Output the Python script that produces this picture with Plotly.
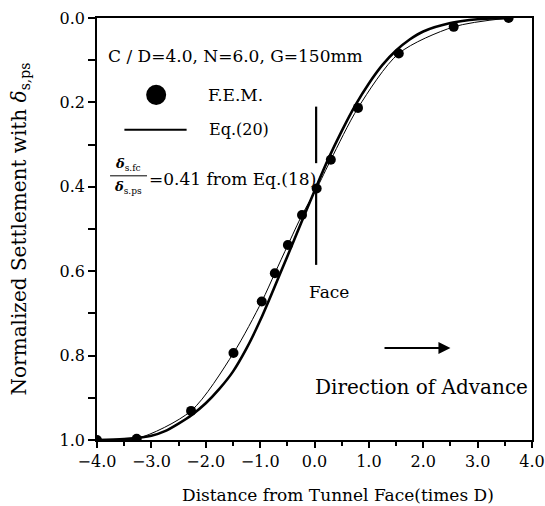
import plotly.graph_objects as go

# F.E.M. results
fem_x = [-4.0, -3.27, -2.27, -1.49, -0.97, -0.73, -0.49, -0.23, 0.04, 0.30, 0.80, 1.55, 2.56, 3.57]
fem_y = [1.0, 0.997, 0.931, 0.794, 0.672, 0.605, 0.538, 0.467, 0.404, 0.336, 0.213, 0.084, 0.021, 0.0]

# Eq.(20) curve
eq_x = [-4.0, -3.5, -3.0, -2.75, -2.5, -2.25, -2.0, -1.75, -1.5, -1.25, -1.0, -0.75, -0.5, -0.25,
        0.0, 0.25, 0.5, 0.75, 1.0, 1.25, 1.5, 1.75, 2.0, 2.5, 3.0, 3.6]
eq_y = [1.0, 0.998, 0.99, 0.979, 0.961, 0.94, 0.913, 0.879, 0.838, 0.783, 0.717, 0.642, 0.565, 0.487,
        0.41, 0.335, 0.268, 0.207, 0.155, 0.111, 0.077, 0.051, 0.032, 0.012, 0.003, 0.0]

face_x = [0.03, 0.03]
face_upper = [0.21, 0.344]
face_lower = [0.40, 0.585]

x_ticks = [-4.0, -3.0, -2.0, -1.0, 0.0, 1.0, 2.0, 3.0, 4.0]
x_labels = ["\u22124.0", "\u22123.0", "\u22122.0", "\u22121.0", "0.0", "1.0", "2.0", "3.0", "4.0"]
y_ticks = [0.0, 0.2, 0.4, 0.6, 0.8, 1.0]
y_labels = ["0.0", "0.2", "0.4", "0.6", "0.8", "1.0"]

FONT = "DejaVu Serif"

fig = go.Figure()
fig.add_trace(go.Scatter(x=eq_x, y=eq_y, mode="lines", line=dict(color="black", width=2.6, shape="spline", smoothing=0.8),
                         showlegend=False))
fig.add_trace(go.Scatter(x=fem_x, y=fem_y, mode="lines+markers", line=dict(color="black", width=1, shape="spline", smoothing=0.8),
                         marker=dict(color="black", size=10), showlegend=False))
fig.add_trace(go.Scatter(x=face_x, y=face_upper, mode="lines", line=dict(color="black", width=2.2), showlegend=False))
fig.add_trace(go.Scatter(x=face_x, y=face_lower, mode="lines", line=dict(color="black", width=2.2), showlegend=False))

def tf(s):
    return dict(family=FONT, size=s, color="black")

ann = []
ann.append(dict(x=0.020, y=0.910, xref="paper", yref="paper", text="C / D=4.0, N=6.0, G=150mm",
                showarrow=False, xanchor="left", yanchor="middle", font=tf(17)))
ann.append(dict(x=0.250, y=0.818, xref="paper", yref="paper", text="F.E.M.",
                showarrow=False, xanchor="left", yanchor="middle", font=tf(17)))
ann.append(dict(x=0.252, y=0.735, xref="paper", yref="paper", text="Eq.(20)",
                showarrow=False, xanchor="left", yanchor="middle", font=tf(16)))
ann.append(dict(x=0.114, y=0.619, xref="paper", yref="paper", text="=0.41 from Eq.(18)",
                showarrow=False, xanchor="left", yanchor="middle", font=tf(17)))
ann.append(dict(x=0.072, y=0.628, xref="paper", yref="paper", text="<b><i>δ</i></b><sub>s.fc</sub>",
                showarrow=False, xanchor="center", yanchor="bottom", font=tf(13)))
ann.append(dict(x=0.072, y=0.624, xref="paper", yref="paper", text="<b><i>δ</i></b><sub>s.ps</sub>",
                showarrow=False, xanchor="center", yanchor="top", font=tf(13)))
ann.append(dict(x=0.482, y=0.351, xref="paper", yref="paper", text="Face",
                showarrow=False, xanchor="left", yanchor="middle", font=tf(17)))
ann.append(dict(x=0.497, y=0.126, xref="paper", yref="paper", text="Direction of Advance",
                showarrow=False, xanchor="left", yanchor="middle", font=tf(20)))
ann.append(dict(x=0.555, y=-0.131, xref="paper", yref="paper", text="Distance from Tunnel Face(times D)",
                showarrow=False, xanchor="center", yanchor="middle", font=tf(17)))
ann.append(dict(x=2.5, y=0.782, ax=1.26, ay=0.782, xref="x", yref="y", axref="x", ayref="y", text="",
                showarrow=True, arrowhead=2, arrowsize=1.2, arrowwidth=2, arrowcolor="black"))

shapes = []
shapes.append(dict(type="circle", xref="paper", yref="paper", x0=0.113, x1=0.159, y0=0.794, y1=0.842,
                   fillcolor="black", line=dict(color="black", width=0)))
shapes.append(dict(type="line", xref="paper", yref="paper", x0=0.063, x1=0.206, y0=0.735, y1=0.735,
                   line=dict(color="black", width=2)))
shapes.append(dict(type="line", xref="paper", yref="paper", x0=0.030, x1=0.115, y0=0.626, y1=0.626,
                   line=dict(color="black", width=1)))

fig.update_layout(
    width=545, height=506,
    margin=dict(l=97, r=13, t=18, b=66, autoexpand=False),
    paper_bgcolor="white", plot_bgcolor="white",
    font=dict(family=FONT, size=16, color="black"),
    annotations=ann, shapes=shapes,
    xaxis=dict(range=[-4.0, 4.0], tickvals=x_ticks, ticktext=x_labels, ticks="outside", ticklen=6,
               tickwidth=1.5, tickcolor="black", showline=True, linecolor="black", linewidth=1.5,
               mirror=True, showgrid=False, zeroline=False, ticklabeloverflow="allow", automargin=False,
               minor=dict(dtick=0.5, ticks="outside", ticklen=4, tickcolor="black", showgrid=False),
               tickfont=tf(16)),
    yaxis=dict(range=[1.0, 0.0], tickvals=y_ticks, ticktext=y_labels, ticks="outside", ticklen=7,
               tickwidth=1.5, tickcolor="black", showline=True, linecolor="black", linewidth=1.5,
               mirror=True, showgrid=False, zeroline=False, automargin=False,
               minor=dict(dtick=0.1, ticks="outside", ticklen=7, tickcolor="black", showgrid=False),
               title=dict(text="Normalized Settlement with <i>δ</i><sub>s,ps</sub>", font=tf(20),
                          standoff=28),
               tickfont=tf(16)),
)

fig.write_html("out.html")
